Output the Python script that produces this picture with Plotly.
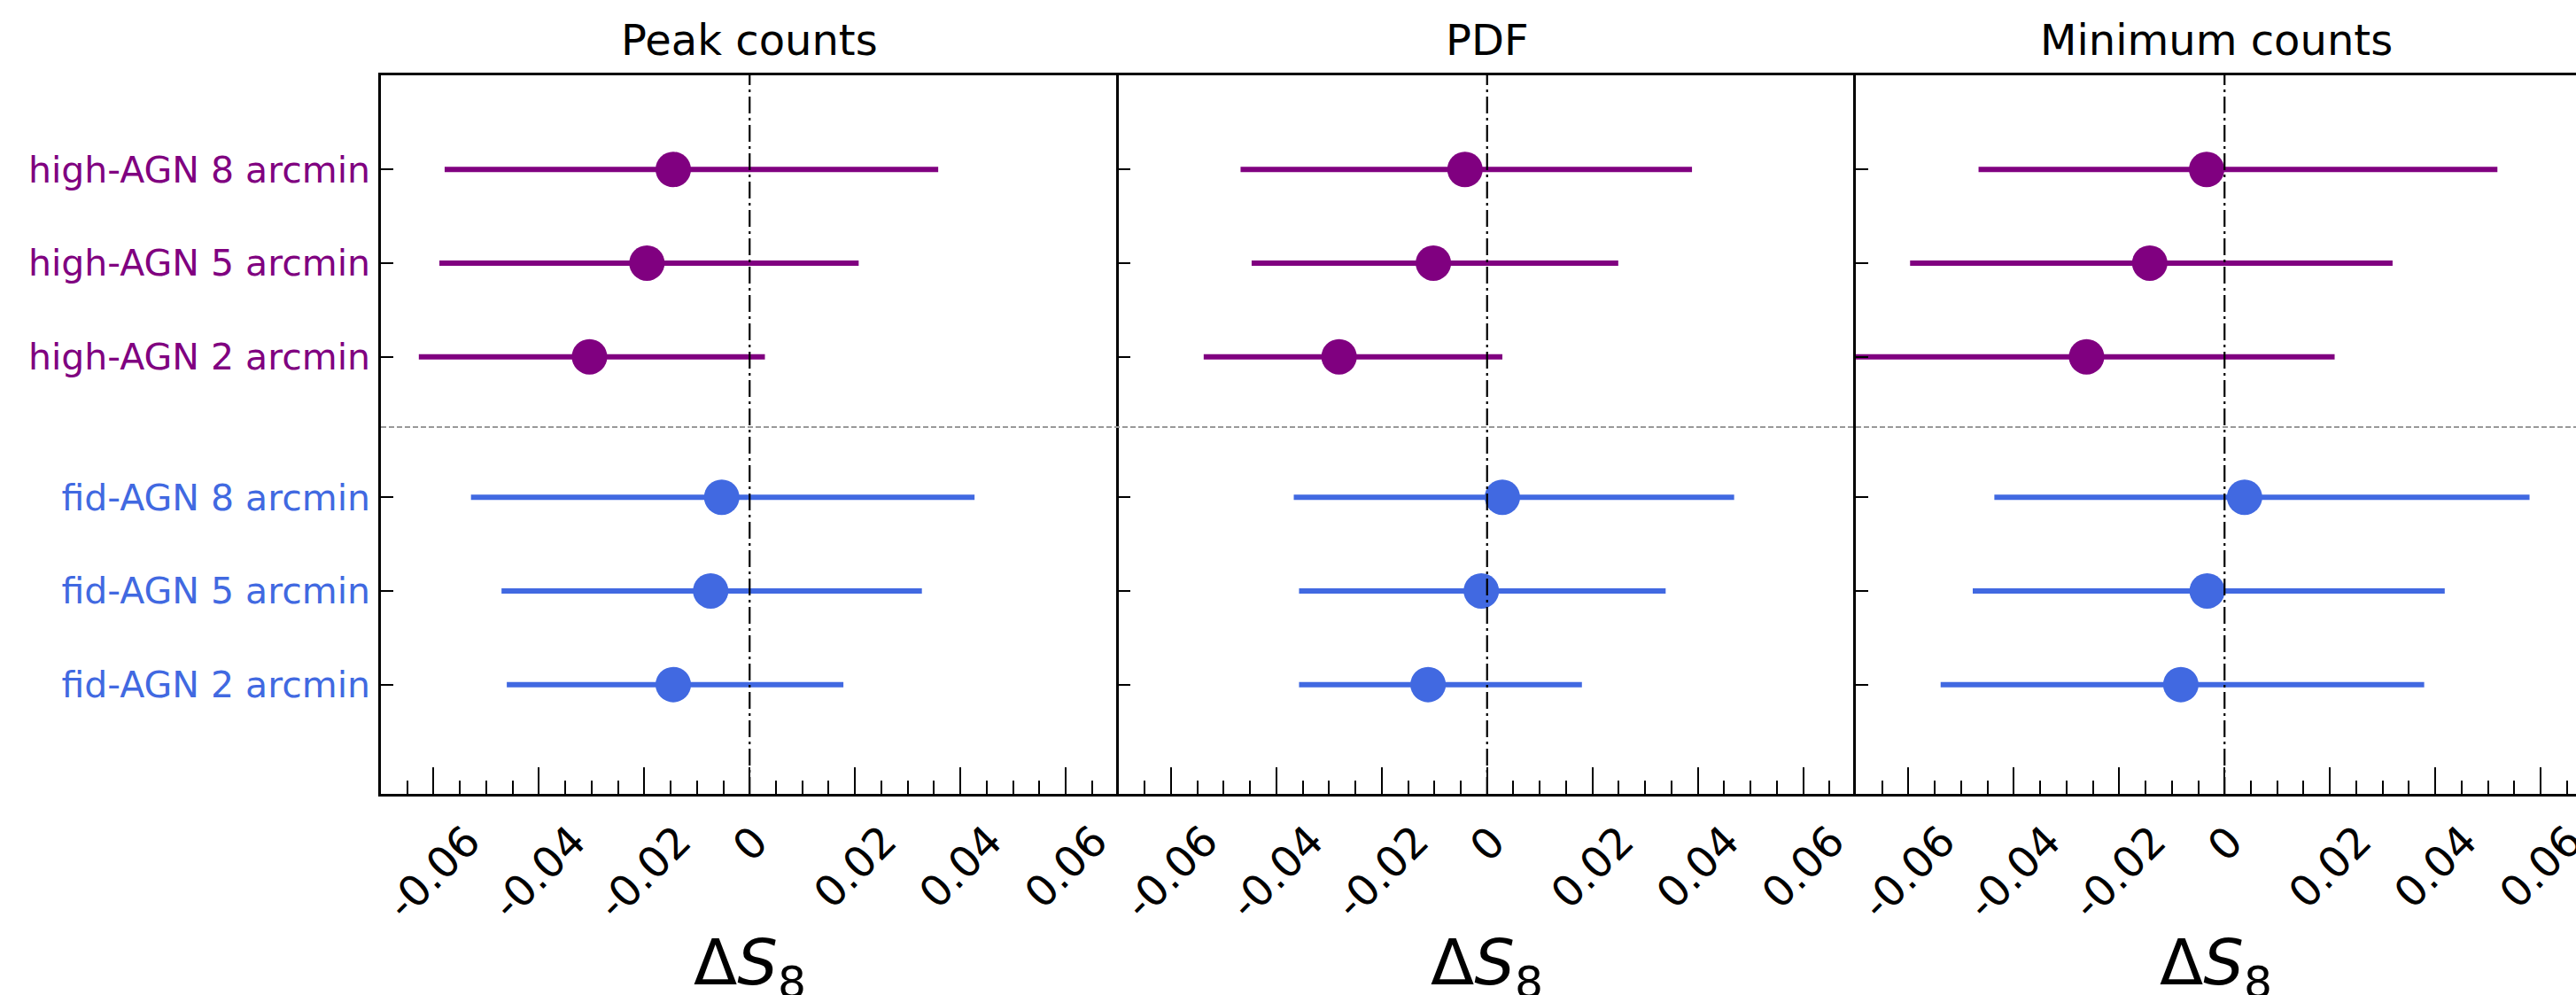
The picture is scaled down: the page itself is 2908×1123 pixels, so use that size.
import plotly.graph_objects as go

# ---------------- data ----------------
categories = ["high-AGN 8 arcmin", "high-AGN 5 arcmin", "high-AGN 2 arcmin",
              "fid-AGN 8 arcmin", "fid-AGN 5 arcmin", "fid-AGN 2 arcmin"]
groups = ["high", "high", "high", "fid", "fid", "fid"]
y_rows = [5.5, 4.5, 3.5, 2.0, 1.0, 0.0]
separator_row = 2.75

panel_titles = ["Peak counts", "PDF", "Minimum counts"]

peak_mean = [-0.0145, -0.0195, -0.0304, -0.0053, -0.0074, -0.0145]
peak_lo = [-0.0579, -0.0589, -0.0628, -0.0529, -0.0471, -0.0461]
peak_hi = [0.0358, 0.0207, 0.0029, 0.0427, 0.0327, 0.0178]

pdf_mean = [-0.0042, -0.0102, -0.0281, 0.0029, -0.0011, -0.0112]
pdf_lo = [-0.0468, -0.0447, -0.0538, -0.0367, -0.0357, -0.0357]
pdf_hi = [0.0389, 0.0249, 0.0029, 0.0469, 0.0339, 0.0180]

min_mean = [-0.0034, -0.0142, -0.0262, 0.0038, -0.0033, -0.0083]
min_lo = [-0.0467, -0.0597, -0.0720, -0.0437, -0.0478, -0.0539]
min_hi = [0.0518, 0.0319, 0.0209, 0.0579, 0.0418, 0.0379]

xtick_vals = [-0.06, -0.04, -0.02, 0, 0.02, 0.04, 0.06]
xtick_text = ["-0.06", "-0.04", "-0.02", "0", "0.02", "0.04", "0.06"]

group_colors = {"high": "#800080", "fid": "#4169E1"}

# ---------------- figure ----------------
FONT = "DejaVu Sans"
W, H = 2908, 1123
ML, MR, MT, MB = 430, 0, 85, 227
plot_w = W - ML - MR
d1 = 832.5 / plot_w
d2 = 1665.0 / plot_w
domains = [[0, d1], [d1, d2], [d2, 1.0]]
x_ranges = [[-0.07, 0.07], [-0.07, 0.07], [-0.07, -0.07 + 0.14 * (plot_w - 1665.0) / 832.5]]
y_range = [-1.167, 6.505]

panels = [(peak_mean, peak_lo, peak_hi), (pdf_mean, pdf_lo, pdf_hi), (min_mean, min_lo, min_hi)]

fig = go.Figure()

for p, (mean, lo, hi) in enumerate(panels):
    xa = "x" if p == 0 else f"x{p+1}"
    ya = "y" if p == 0 else f"y{p+1}"
    for g in ["high", "fid"]:
        idx = [i for i, gg in enumerate(groups) if gg == g]
        xs = [mean[i] for i in idx]
        ys = [y_rows[i] for i in idx]
        plus = [hi[i] - mean[i] for i in idx]
        minus = [mean[i] - lo[i] for i in idx]
        fig.add_trace(go.Scatter(
            x=xs, y=ys, xaxis=xa, yaxis=ya, mode="markers",
            marker=dict(size=40, color=group_colors[g], line=dict(width=0)),
            error_x=dict(type="data", symmetric=False, array=plus, arrayminus=minus,
                         thickness=6, width=0, color=group_colors[g]),
            showlegend=False, hoverinfo="skip"))

ytick_text = [f'<span style="color:{group_colors[g]}">{c}</span>' for c, g in zip(categories, groups)]

layout = dict(
    width=W, height=H,
    margin=dict(l=ML, r=MR, t=MT, b=MB, pad=0),
    paper_bgcolor="white", plot_bgcolor="white",
    font=dict(family=FONT, size=40, color="black"),
    showlegend=False,
)

for p in range(3):
    xk = "xaxis" if p == 0 else f"xaxis{p+1}"
    yk = "yaxis" if p == 0 else f"yaxis{p+1}"
    ya = "y" if p == 0 else f"y{p+1}"
    xa = "x" if p == 0 else f"x{p+1}"
    layout[xk] = dict(
        domain=domains[p], range=x_ranges[p], anchor=ya,
        showgrid=False, zeroline=False,
        showline=True, linecolor="black", linewidth=2.5, mirror=True,
        tickmode="array", tickvals=xtick_vals, ticks="inside", ticklen=30, tickwidth=2,
        tickcolor="black", showticklabels=False,
        minor=dict(tick0=0, dtick=0.005, ticks="inside", ticklen=15, tickwidth=2, tickcolor="black", showgrid=False),
    )
    layout[yk] = dict(
        domain=[0, 1], range=y_range, anchor=xa,
        showgrid=False, zeroline=False,
        showline=True, linecolor="black", linewidth=2.5, mirror=False,
        tickmode="array", tickvals=y_rows, ticktext=ytick_text,
        ticks="inside", ticklen=14, tickwidth=2, tickcolor="black",
        showticklabels=(p == 0),
        tickfont=dict(family=FONT, size=41),
        ticklabelstandoff=1,
    )

# right-side inward ticks for the first two panels (frame line comes from the next panel)
for k, (ov, anc) in enumerate([("y", "x"), ("y2", "x2")]):
    layout[f"yaxis{4 + k}"] = dict(
        overlaying=ov, anchor=anc, side="right", range=y_range,
        showgrid=False, zeroline=False, showline=False,
        tickmode="array", tickvals=y_rows, ticks="inside", ticklen=14, tickwidth=2,
        tickcolor="black", showticklabels=False,
    )

fig.update_layout(**layout)

shapes = []
annotations = []
for p in range(3):
    xa = "x" if p == 0 else f"x{p+1}"
    # zero reference line
    shapes.append(dict(type="line", xref=xa, yref=("y" if p == 0 else f"y{p+1}") + " domain",
                       x0=0, x1=0, y0=0, y1=1,
                       line=dict(color="black", width=2.2, dash="19px,5px,3px,5px")))
    # panel title
    annotations.append(dict(text=panel_titles[p], xref=f"{xa} domain", yref="paper",
                            x=0.5, y=1, xanchor="center", yanchor="bottom", yshift=10,
                            showarrow=False, font=dict(family=FONT, size=48, color="black")))
    # x tick labels (rotated, centred on tick)
    for v, t in zip(xtick_vals, xtick_text):
        annotations.append(dict(text=t, xref=xa, yref="paper", x=v, y=0,
                                xanchor="center", yanchor="top", yshift=-22, textangle=-45,
                                showarrow=False, font=dict(family=FONT, size=48, color="black")))
    # x axis label
    annotations.append(dict(text="Δ<i>S</i><sub>8</sub>", xref=f"{xa} domain", yref="paper",
                            x=0.5, y=0, xanchor="center", yanchor="top", yshift=-146,
                            showarrow=False, font=dict(family=FONT, size=72, color="black")))

# separator between the two model groups
shapes.append(dict(type="line", xref="paper", yref="y", x0=0, x1=1,
                   y0=separator_row, y1=separator_row,
                   line=dict(color="#999999", width=2, dash="6px,3px")))

fig.update_layout(shapes=shapes, annotations=annotations)

fig.write_html("out.html", config={"displayModeBar": False})
